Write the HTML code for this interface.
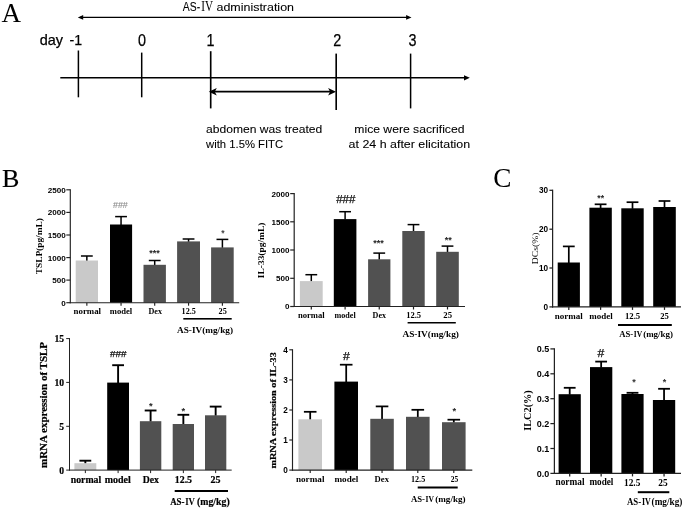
<!DOCTYPE html>
<html><head><meta charset="utf-8"><title>Figure</title>
<style>
html,body{margin:0;padding:0;background:#fff;}
body{width:685px;height:510px;overflow:hidden;font-family:"Liberation Sans",sans-serif;}
svg{display:block;will-change:transform;filter:grayscale(1);}
</style></head><body>
<svg width="685" height="510" viewBox="0 0 685 510">
<rect x="0" y="0" width="685" height="510" fill="#fff"/>
<text x="1.6" y="21.6" font-family="Liberation Serif" font-size="27" font-weight="normal" text-anchor="start" fill="#000">A</text>
<text x="1.9" y="186.9" font-family="Liberation Serif" font-size="26" font-weight="normal" text-anchor="start" fill="#000" stroke="#000" stroke-width="0.15">B</text>
<text x="493.2" y="187.4" font-family="Liberation Serif" font-size="27.2" font-weight="normal" text-anchor="start" fill="#000">C</text>
<text x="182.8" y="11.3" font-family="Liberation Sans" font-size="12.2" font-weight="normal" text-anchor="start" fill="#000" textLength="17.3" lengthAdjust="spacingAndGlyphs" stroke="#000" stroke-width="0.08">AS-</text>
<text x="201.2" y="11.2" font-family="Liberation Serif" font-size="14" font-weight="normal" text-anchor="start" fill="#000" textLength="11.8" lengthAdjust="spacingAndGlyphs">IV</text>
<text x="216.5" y="11.2" font-family="Liberation Sans" font-size="11.6" font-weight="normal" text-anchor="start" fill="#000" textLength="77.5" lengthAdjust="spacingAndGlyphs" stroke="#000" stroke-width="0.08">administration</text>
<line x1="80" y1="17.4" x2="409" y2="17.4" stroke="#000" stroke-width="1.4"/>
<polygon points="77.8,17.4 83.2,15 83.2,19.8" fill="#000"/>
<polygon points="411.5,17.4 406.1,15 406.1,19.8" fill="#000"/>
<text x="39.7" y="45.2" font-family="Liberation Sans" font-size="14.5" font-weight="normal" text-anchor="start" fill="#000" textLength="23.3" lengthAdjust="spacingAndGlyphs" stroke="#000" stroke-width="0.25">day</text>
<text x="69.5" y="45.2" font-family="Liberation Sans" font-size="14.5" font-weight="normal" text-anchor="start" fill="#000" textLength="12.6" lengthAdjust="spacingAndGlyphs" stroke="#000" stroke-width="0.25">-1</text>
<text x="141.9" y="45.7" font-family="Liberation Sans" font-size="16.4" font-weight="normal" text-anchor="middle" fill="#000" textLength="8" lengthAdjust="spacingAndGlyphs" stroke="#000" stroke-width="0.25">0</text>
<text x="210.6" y="45.7" font-family="Liberation Sans" font-size="16.4" font-weight="normal" text-anchor="middle" fill="#000" textLength="8" lengthAdjust="spacingAndGlyphs" stroke="#000" stroke-width="0.25">1</text>
<text x="337.3" y="45.7" font-family="Liberation Sans" font-size="16.4" font-weight="normal" text-anchor="middle" fill="#000" textLength="8" lengthAdjust="spacingAndGlyphs" stroke="#000" stroke-width="0.25">2</text>
<text x="412.5" y="45.7" font-family="Liberation Sans" font-size="16.4" font-weight="normal" text-anchor="middle" fill="#000" textLength="8" lengthAdjust="spacingAndGlyphs" stroke="#000" stroke-width="0.25">3</text>
<line x1="60.3" y1="77.8" x2="466" y2="77.8" stroke="#000" stroke-width="1.5"/>
<polygon points="469.8,77.8 464,75.2 464,80.4" fill="#000"/>
<line x1="78.4" y1="50.5" x2="78.4" y2="97.3" stroke="#000" stroke-width="1.5"/>
<line x1="141.7" y1="52.6" x2="141.7" y2="97.3" stroke="#000" stroke-width="1.5"/>
<line x1="210.7" y1="51.2" x2="210.7" y2="108.4" stroke="#000" stroke-width="1.65"/>
<line x1="336.2" y1="53.6" x2="336.2" y2="110" stroke="#000" stroke-width="1.65"/>
<line x1="410.6" y1="53.6" x2="410.6" y2="108.4" stroke="#000" stroke-width="1.5"/>
<line x1="213.5" y1="91.7" x2="331.5" y2="91.7" stroke="#000" stroke-width="1.8"/>
<polygon points="208.8,91.7 216.8,88 214.8,91.7 216.8,95.4" fill="#000"/>
<polygon points="336,91.7 328.1,88 330.1,91.7 328.1,95.4" fill="#000"/>
<text x="206.1" y="132.8" font-family="Liberation Sans" font-size="11.4" font-weight="normal" text-anchor="start" fill="#000" textLength="116.2" lengthAdjust="spacingAndGlyphs" stroke="#000" stroke-width="0.08">abdomen was treated</text>
<text x="206.1" y="147.9" font-family="Liberation Sans" font-size="11.4" font-weight="normal" text-anchor="start" fill="#000" textLength="77" lengthAdjust="spacingAndGlyphs" stroke="#000" stroke-width="0.08">with 1.5% FITC</text>
<text x="354.3" y="132.8" font-family="Liberation Sans" font-size="11.4" font-weight="normal" text-anchor="start" fill="#000" textLength="110.2" lengthAdjust="spacingAndGlyphs" stroke="#000" stroke-width="0.08">mice were sacrificed</text>
<text x="348.6" y="147.9" font-family="Liberation Sans" font-size="11.4" font-weight="normal" text-anchor="start" fill="#000" textLength="121.6" lengthAdjust="spacingAndGlyphs" stroke="#000" stroke-width="0.08">at 24 h after elicitation</text>
<line x1="86.85" y1="256" x2="86.85" y2="261.0" stroke="#000" stroke-width="1.5"/>
<line x1="80.94999999999999" y1="256" x2="92.75" y2="256" stroke="#000" stroke-width="1.5"/>
<rect x="75.7" y="260.5" width="22.299999999999997" height="42.19999999999999" fill="#c9c9c9"/>
<line x1="86.85" y1="302.7" x2="86.85" y2="305.7" stroke="#222" stroke-width="1.15"/>
<line x1="121.05" y1="216.6" x2="121.05" y2="225.0" stroke="#000" stroke-width="1.5"/>
<line x1="115.14999999999999" y1="216.6" x2="126.95" y2="216.6" stroke="#000" stroke-width="1.5"/>
<rect x="110" y="224.5" width="22.099999999999994" height="78.19999999999999" fill="#000"/>
<line x1="121.05" y1="302.7" x2="121.05" y2="305.7" stroke="#222" stroke-width="1.15"/>
<line x1="154.7" y1="260.5" x2="154.7" y2="265.3" stroke="#000" stroke-width="1.5"/>
<line x1="148.79999999999998" y1="260.5" x2="160.6" y2="260.5" stroke="#000" stroke-width="1.5"/>
<rect x="143.5" y="264.8" width="22.400000000000006" height="37.89999999999998" fill="#515151"/>
<line x1="154.7" y1="302.7" x2="154.7" y2="305.7" stroke="#222" stroke-width="1.15"/>
<line x1="188.55" y1="239" x2="188.55" y2="241.9" stroke="#000" stroke-width="1.5"/>
<line x1="182.65" y1="239" x2="194.45000000000002" y2="239" stroke="#000" stroke-width="1.5"/>
<rect x="177.1" y="241.4" width="22.900000000000006" height="61.29999999999998" fill="#515151"/>
<line x1="188.55" y1="302.7" x2="188.55" y2="305.7" stroke="#222" stroke-width="1.15"/>
<line x1="222.39999999999998" y1="239.4" x2="222.39999999999998" y2="247.9" stroke="#000" stroke-width="1.5"/>
<line x1="216.49999999999997" y1="239.4" x2="228.29999999999998" y2="239.4" stroke="#000" stroke-width="1.5"/>
<rect x="211.1" y="247.4" width="22.599999999999994" height="55.29999999999998" fill="#515151"/>
<line x1="222.39999999999998" y1="302.7" x2="222.39999999999998" y2="305.7" stroke="#222" stroke-width="1.15"/>
<line x1="70.3" y1="189.22500000000002" x2="70.3" y2="303.275" stroke="#222" stroke-width="1.15"/>
<line x1="69.725" y1="302.7" x2="239.2" y2="302.7" stroke="#222" stroke-width="1.15"/>
<line x1="66.3" y1="189.8" x2="70.3" y2="189.8" stroke="#222" stroke-width="1.15"/>
<text x="65.7" y="192.72" font-family="Liberation Sans" font-size="8.1" font-weight="bold" text-anchor="end" fill="#000">2500</text>
<line x1="66.3" y1="212.4" x2="70.3" y2="212.4" stroke="#222" stroke-width="1.15"/>
<text x="65.7" y="215.32" font-family="Liberation Sans" font-size="8.1" font-weight="bold" text-anchor="end" fill="#000">2000</text>
<line x1="66.3" y1="235" x2="70.3" y2="235" stroke="#222" stroke-width="1.15"/>
<text x="65.7" y="237.92" font-family="Liberation Sans" font-size="8.1" font-weight="bold" text-anchor="end" fill="#000">1500</text>
<line x1="66.3" y1="257.6" x2="70.3" y2="257.6" stroke="#222" stroke-width="1.15"/>
<text x="65.7" y="260.52" font-family="Liberation Sans" font-size="8.1" font-weight="bold" text-anchor="end" fill="#000">1000</text>
<line x1="66.3" y1="280.1" x2="70.3" y2="280.1" stroke="#222" stroke-width="1.15"/>
<text x="65.7" y="283.02" font-family="Liberation Sans" font-size="8.1" font-weight="bold" text-anchor="end" fill="#000">500</text>
<line x1="66.3" y1="302.7" x2="70.3" y2="302.7" stroke="#222" stroke-width="1.15"/>
<text x="65.7" y="305.62" font-family="Liberation Sans" font-size="8.1" font-weight="bold" text-anchor="end" fill="#000">0</text>
<text x="41.9" y="246.2" font-family="Liberation Serif" font-size="8.2" font-weight="bold" text-anchor="middle" fill="#000" textLength="56" lengthAdjust="spacingAndGlyphs" transform="rotate(-90 41.9 246.2)">TSLP(pg/mL)</text>
<text x="87.3" y="314.2" font-family="Liberation Serif" font-size="8" font-weight="bold" text-anchor="middle" fill="#000" textLength="27.5" lengthAdjust="spacingAndGlyphs">normal</text>
<text x="121" y="314.2" font-family="Liberation Serif" font-size="8" font-weight="bold" text-anchor="middle" fill="#000" textLength="22.4" lengthAdjust="spacingAndGlyphs">model</text>
<text x="155.2" y="314.2" font-family="Liberation Serif" font-size="8" font-weight="bold" text-anchor="middle" fill="#000" textLength="13.5" lengthAdjust="spacingAndGlyphs">Dex</text>
<text x="188.7" y="314.2" font-family="Liberation Serif" font-size="8" font-weight="bold" text-anchor="middle" fill="#000" textLength="14.2" lengthAdjust="spacingAndGlyphs">12.5</text>
<text x="222.7" y="314.2" font-family="Liberation Serif" font-size="8" font-weight="bold" text-anchor="middle" fill="#000" textLength="8.2" lengthAdjust="spacingAndGlyphs">25</text>
<rect x="183.3" y="318" width="48.4" height="1.6" fill="#000"/>
<text x="205" y="333" font-family="Liberation Serif" font-size="9" font-weight="bold" text-anchor="middle" fill="#000" textLength="56" lengthAdjust="spacingAndGlyphs">AS-IV(mg/kg)</text>
<line x1="311.29999999999995" y1="274.7" x2="311.29999999999995" y2="281.6" stroke="#000" stroke-width="1.5"/>
<line x1="305.4" y1="274.7" x2="317.19999999999993" y2="274.7" stroke="#000" stroke-width="1.5"/>
<rect x="299.9" y="281.1" width="22.80000000000001" height="25.399999999999977" fill="#c9c9c9"/>
<line x1="311.29999999999995" y1="306.5" x2="311.29999999999995" y2="309.5" stroke="#222" stroke-width="1.2"/>
<line x1="345.1" y1="211.7" x2="345.1" y2="219.6" stroke="#000" stroke-width="1.5"/>
<line x1="339.20000000000005" y1="211.7" x2="351.0" y2="211.7" stroke="#000" stroke-width="1.5"/>
<rect x="333.8" y="219.1" width="22.599999999999966" height="87.4" fill="#000"/>
<line x1="345.1" y1="306.5" x2="345.1" y2="309.5" stroke="#222" stroke-width="1.2"/>
<line x1="379.25" y1="253.1" x2="379.25" y2="259.8" stroke="#000" stroke-width="1.5"/>
<line x1="373.35" y1="253.1" x2="385.15" y2="253.1" stroke="#000" stroke-width="1.5"/>
<rect x="368.1" y="259.3" width="22.299999999999955" height="47.19999999999999" fill="#515151"/>
<line x1="379.25" y1="306.5" x2="379.25" y2="309.5" stroke="#222" stroke-width="1.2"/>
<line x1="413.5" y1="224.6" x2="413.5" y2="231.5" stroke="#000" stroke-width="1.5"/>
<line x1="407.6" y1="224.6" x2="419.4" y2="224.6" stroke="#000" stroke-width="1.5"/>
<rect x="402.3" y="231" width="22.399999999999977" height="75.5" fill="#515151"/>
<line x1="413.5" y1="306.5" x2="413.5" y2="309.5" stroke="#222" stroke-width="1.2"/>
<line x1="447.5" y1="246.1" x2="447.5" y2="252.3" stroke="#000" stroke-width="1.5"/>
<line x1="441.6" y1="246.1" x2="453.4" y2="246.1" stroke="#000" stroke-width="1.5"/>
<rect x="436.2" y="251.8" width="22.600000000000023" height="54.69999999999999" fill="#515151"/>
<line x1="447.5" y1="306.5" x2="447.5" y2="309.5" stroke="#222" stroke-width="1.2"/>
<line x1="294.2" y1="193.0" x2="294.2" y2="307.1" stroke="#222" stroke-width="1.2"/>
<line x1="293.59999999999997" y1="306.5" x2="465" y2="306.5" stroke="#222" stroke-width="1.2"/>
<line x1="290.2" y1="193.6" x2="294.2" y2="193.6" stroke="#222" stroke-width="1.2"/>
<text x="289.59999999999997" y="196.52" font-family="Liberation Sans" font-size="8.1" font-weight="bold" text-anchor="end" fill="#000">2000</text>
<line x1="290.2" y1="221.8" x2="294.2" y2="221.8" stroke="#222" stroke-width="1.2"/>
<text x="289.59999999999997" y="224.72" font-family="Liberation Sans" font-size="8.1" font-weight="bold" text-anchor="end" fill="#000">1500</text>
<line x1="290.2" y1="250" x2="294.2" y2="250" stroke="#222" stroke-width="1.2"/>
<text x="289.59999999999997" y="252.92" font-family="Liberation Sans" font-size="8.1" font-weight="bold" text-anchor="end" fill="#000">1000</text>
<line x1="290.2" y1="278.3" x2="294.2" y2="278.3" stroke="#222" stroke-width="1.2"/>
<text x="289.59999999999997" y="281.22" font-family="Liberation Sans" font-size="8.1" font-weight="bold" text-anchor="end" fill="#000">500</text>
<line x1="290.2" y1="306.5" x2="294.2" y2="306.5" stroke="#222" stroke-width="1.2"/>
<text x="289.59999999999997" y="309.42" font-family="Liberation Sans" font-size="8.1" font-weight="bold" text-anchor="end" fill="#000">0</text>
<text x="264.5" y="250.4" font-family="Liberation Serif" font-size="8.4" font-weight="bold" text-anchor="middle" fill="#000" textLength="55.5" lengthAdjust="spacingAndGlyphs" transform="rotate(-90 264.5 250.4)">IL-33(pg/mL)</text>
<text x="311.3" y="318.3" font-family="Liberation Serif" font-size="8" font-weight="bold" text-anchor="middle" fill="#000" textLength="26.8" lengthAdjust="spacingAndGlyphs">normal</text>
<text x="345.1" y="318.3" font-family="Liberation Serif" font-size="8" font-weight="bold" text-anchor="middle" fill="#000" textLength="21.2" lengthAdjust="spacingAndGlyphs">model</text>
<text x="379.3" y="318.3" font-family="Liberation Serif" font-size="8" font-weight="bold" text-anchor="middle" fill="#000" textLength="13.4" lengthAdjust="spacingAndGlyphs">Dex</text>
<text x="413.6" y="318.3" font-family="Liberation Serif" font-size="8" font-weight="bold" text-anchor="middle" fill="#000" textLength="14.9" lengthAdjust="spacingAndGlyphs">12.5</text>
<text x="447.7" y="318.3" font-family="Liberation Serif" font-size="8" font-weight="bold" text-anchor="middle" fill="#000" textLength="8.7" lengthAdjust="spacingAndGlyphs">25</text>
<rect x="407.6" y="322" width="48.2" height="1.5" fill="#000"/>
<text x="430.7" y="336.7" font-family="Liberation Serif" font-size="9" font-weight="bold" text-anchor="middle" fill="#000" textLength="56.5" lengthAdjust="spacingAndGlyphs">AS-IV(mg/kg)</text>
<line x1="85.35" y1="460.7" x2="85.35" y2="463.7" stroke="#000" stroke-width="1.9"/>
<line x1="79.44999999999999" y1="460.7" x2="91.25" y2="460.7" stroke="#000" stroke-width="1.9"/>
<rect x="74.4" y="463.2" width="21.89999999999999" height="6.900000000000034" fill="#c9c9c9"/>
<line x1="85.35" y1="470.1" x2="85.35" y2="473.1" stroke="#222" stroke-width="1.0"/>
<line x1="118.1" y1="365.2" x2="118.1" y2="383.1" stroke="#000" stroke-width="1.9"/>
<line x1="112.19999999999999" y1="365.2" x2="124.0" y2="365.2" stroke="#000" stroke-width="1.9"/>
<rect x="107.2" y="382.6" width="21.799999999999997" height="87.5" fill="#000"/>
<line x1="118.1" y1="470.1" x2="118.1" y2="473.1" stroke="#222" stroke-width="1.0"/>
<line x1="150.60000000000002" y1="410.5" x2="150.60000000000002" y2="421.7" stroke="#000" stroke-width="1.9"/>
<line x1="144.70000000000002" y1="410.5" x2="156.50000000000003" y2="410.5" stroke="#000" stroke-width="1.9"/>
<rect x="139.9" y="421.2" width="21.400000000000006" height="48.900000000000034" fill="#515151"/>
<line x1="150.60000000000002" y1="470.1" x2="150.60000000000002" y2="473.1" stroke="#222" stroke-width="1.0"/>
<line x1="183.35" y1="414.8" x2="183.35" y2="424.5" stroke="#000" stroke-width="1.9"/>
<line x1="177.45" y1="414.8" x2="189.25" y2="414.8" stroke="#000" stroke-width="1.9"/>
<rect x="172.7" y="424" width="21.30000000000001" height="46.10000000000002" fill="#515151"/>
<line x1="183.35" y1="470.1" x2="183.35" y2="473.1" stroke="#222" stroke-width="1.0"/>
<line x1="215.65" y1="406.6" x2="215.65" y2="415.8" stroke="#000" stroke-width="1.9"/>
<line x1="209.75" y1="406.6" x2="221.55" y2="406.6" stroke="#000" stroke-width="1.9"/>
<rect x="205" y="415.3" width="21.30000000000001" height="54.80000000000001" fill="#515151"/>
<line x1="215.65" y1="470.1" x2="215.65" y2="473.1" stroke="#222" stroke-width="1.0"/>
<line x1="69.5" y1="338.1" x2="69.5" y2="470.6" stroke="#222" stroke-width="1.0"/>
<line x1="69.0" y1="470.1" x2="231.7" y2="470.1" stroke="#222" stroke-width="1.0"/>
<line x1="66.2" y1="338.6" x2="69.5" y2="338.6" stroke="#222" stroke-width="1.0"/>
<text x="64.0" y="342.06" font-family="Liberation Serif" font-size="9.6" font-weight="bold" text-anchor="end" fill="#000" stroke="#000" stroke-width="0.2">15</text>
<line x1="66.2" y1="382.4" x2="69.5" y2="382.4" stroke="#222" stroke-width="1.0"/>
<text x="64.0" y="385.86" font-family="Liberation Serif" font-size="9.6" font-weight="bold" text-anchor="end" fill="#000" stroke="#000" stroke-width="0.2">10</text>
<line x1="66.2" y1="426.3" x2="69.5" y2="426.3" stroke="#222" stroke-width="1.0"/>
<text x="64.0" y="429.76" font-family="Liberation Serif" font-size="9.6" font-weight="bold" text-anchor="end" fill="#000" stroke="#000" stroke-width="0.2">5</text>
<line x1="66.2" y1="470.1" x2="69.5" y2="470.1" stroke="#222" stroke-width="1.0"/>
<text x="64.0" y="473.56" font-family="Liberation Serif" font-size="9.6" font-weight="bold" text-anchor="end" fill="#000" stroke="#000" stroke-width="0.2">0</text>
<text x="46.6" y="405" font-family="Liberation Serif" font-size="10" font-weight="bold" text-anchor="middle" fill="#000" textLength="126" lengthAdjust="spacingAndGlyphs" transform="rotate(-90 46.6 405)" stroke="#000" stroke-width="0.2">mRNA expression of TSLP</text>
<text x="86" y="482.5" font-family="Liberation Serif" font-size="10" font-weight="bold" text-anchor="middle" fill="#000" textLength="30.5" lengthAdjust="spacingAndGlyphs" stroke="#000" stroke-width="0.2">normal</text>
<text x="117.8" y="482.5" font-family="Liberation Serif" font-size="10" font-weight="bold" text-anchor="middle" fill="#000" textLength="26" lengthAdjust="spacingAndGlyphs" stroke="#000" stroke-width="0.2">model</text>
<text x="150.8" y="482.5" font-family="Liberation Serif" font-size="10" font-weight="bold" text-anchor="middle" fill="#000" textLength="16.2" lengthAdjust="spacingAndGlyphs" stroke="#000" stroke-width="0.2">Dex</text>
<text x="183.4" y="482.5" font-family="Liberation Serif" font-size="10" font-weight="bold" text-anchor="middle" fill="#000" textLength="17.3" lengthAdjust="spacingAndGlyphs" stroke="#000" stroke-width="0.2">12.5</text>
<text x="215.6" y="482.5" font-family="Liberation Serif" font-size="10" font-weight="bold" text-anchor="middle" fill="#000" textLength="10" lengthAdjust="spacingAndGlyphs" stroke="#000" stroke-width="0.2">25</text>
<rect x="174.7" y="490" width="53.3" height="2" fill="#000"/>
<text x="170.2" y="505.3" font-family="Liberation Serif" font-size="10" font-weight="bold" text-anchor="start" fill="#000" textLength="14.3" lengthAdjust="spacingAndGlyphs" stroke="#000" stroke-width="0.2">AS-</text>
<text x="185.2" y="505.3" font-family="Liberation Serif" font-size="10.3" font-weight="bold" text-anchor="start" fill="#000" textLength="9.8" lengthAdjust="spacingAndGlyphs">IV</text>
<text x="197" y="505.3" font-family="Liberation Serif" font-size="10" font-weight="bold" text-anchor="start" fill="#000" textLength="32.7" lengthAdjust="spacingAndGlyphs" stroke="#000" stroke-width="0.2">(mg/kg)</text>
<line x1="310.2" y1="411.8" x2="310.2" y2="419.8" stroke="#000" stroke-width="1.75"/>
<line x1="303.9" y1="411.8" x2="316.5" y2="411.8" stroke="#000" stroke-width="1.75"/>
<rect x="298.4" y="419.3" width="23.600000000000023" height="50.80000000000001" fill="#c9c9c9"/>
<line x1="310.2" y1="470.1" x2="310.2" y2="473.1" stroke="#222" stroke-width="1.15"/>
<line x1="346.2" y1="364.7" x2="346.2" y2="382.1" stroke="#000" stroke-width="1.75"/>
<line x1="339.9" y1="364.7" x2="352.5" y2="364.7" stroke="#000" stroke-width="1.75"/>
<rect x="334.4" y="381.6" width="23.600000000000023" height="88.5" fill="#000"/>
<line x1="346.2" y1="470.1" x2="346.2" y2="473.1" stroke="#222" stroke-width="1.15"/>
<line x1="382.05" y1="406.4" x2="382.05" y2="419.3" stroke="#000" stroke-width="1.75"/>
<line x1="375.75" y1="406.4" x2="388.35" y2="406.4" stroke="#000" stroke-width="1.75"/>
<rect x="370.3" y="418.8" width="23.5" height="51.30000000000001" fill="#515151"/>
<line x1="382.05" y1="470.1" x2="382.05" y2="473.1" stroke="#222" stroke-width="1.15"/>
<line x1="417.8" y1="409.8" x2="417.8" y2="417.3" stroke="#000" stroke-width="1.75"/>
<line x1="411.5" y1="409.8" x2="424.1" y2="409.8" stroke="#000" stroke-width="1.75"/>
<rect x="406" y="416.8" width="23.600000000000023" height="53.30000000000001" fill="#515151"/>
<line x1="417.8" y1="470.1" x2="417.8" y2="473.1" stroke="#222" stroke-width="1.15"/>
<line x1="453.8" y1="419.7" x2="453.8" y2="422.7" stroke="#000" stroke-width="1.75"/>
<line x1="447.5" y1="419.7" x2="460.1" y2="419.7" stroke="#000" stroke-width="1.75"/>
<rect x="442" y="422.2" width="23.600000000000023" height="47.900000000000034" fill="#515151"/>
<line x1="453.8" y1="470.1" x2="453.8" y2="473.1" stroke="#222" stroke-width="1.15"/>
<line x1="292.5" y1="349.225" x2="292.5" y2="470.675" stroke="#222" stroke-width="1.15"/>
<line x1="291.925" y1="470.1" x2="472.3" y2="470.1" stroke="#222" stroke-width="1.15"/>
<line x1="289.3" y1="349.8" x2="292.5" y2="349.8" stroke="#222" stroke-width="1.15"/>
<text x="287.90000000000003" y="352.75" font-family="Liberation Sans" font-size="8.2" font-weight="bold" text-anchor="end" fill="#000">4</text>
<line x1="289.3" y1="379.9" x2="292.5" y2="379.9" stroke="#222" stroke-width="1.15"/>
<text x="287.90000000000003" y="382.85" font-family="Liberation Sans" font-size="8.2" font-weight="bold" text-anchor="end" fill="#000">3</text>
<line x1="289.3" y1="410" x2="292.5" y2="410" stroke="#222" stroke-width="1.15"/>
<text x="287.90000000000003" y="412.95" font-family="Liberation Sans" font-size="8.2" font-weight="bold" text-anchor="end" fill="#000">2</text>
<line x1="289.3" y1="440" x2="292.5" y2="440" stroke="#222" stroke-width="1.15"/>
<text x="287.90000000000003" y="442.95" font-family="Liberation Sans" font-size="8.2" font-weight="bold" text-anchor="end" fill="#000">1</text>
<line x1="289.3" y1="470.1" x2="292.5" y2="470.1" stroke="#222" stroke-width="1.15"/>
<text x="287.90000000000003" y="473.05" font-family="Liberation Sans" font-size="8.2" font-weight="bold" text-anchor="end" fill="#000">0</text>
<text x="276.4" y="410.4" font-family="Liberation Serif" font-size="8.6" font-weight="bold" text-anchor="middle" fill="#000" textLength="116.3" lengthAdjust="spacingAndGlyphs" transform="rotate(-90 276.4 410.4)" stroke="#000" stroke-width="0.2">mRNA expression of IL-33</text>
<text x="310.2" y="481.8" font-family="Liberation Serif" font-size="8.5" font-weight="bold" text-anchor="middle" fill="#000" textLength="28.5" lengthAdjust="spacingAndGlyphs">normal</text>
<text x="346.4" y="481.8" font-family="Liberation Serif" font-size="8.5" font-weight="bold" text-anchor="middle" fill="#000" textLength="24" lengthAdjust="spacingAndGlyphs">model</text>
<text x="381.8" y="481.8" font-family="Liberation Serif" font-size="8.5" font-weight="bold" text-anchor="middle" fill="#000" textLength="14.4" lengthAdjust="spacingAndGlyphs">Dex</text>
<text x="418.1" y="481.8" font-family="Liberation Serif" font-size="8.5" font-weight="bold" text-anchor="middle" fill="#000" textLength="14.2" lengthAdjust="spacingAndGlyphs">12.5</text>
<text x="454.4" y="481.8" font-family="Liberation Serif" font-size="8.5" font-weight="bold" text-anchor="middle" fill="#000" textLength="7.5" lengthAdjust="spacingAndGlyphs">25</text>
<rect x="417.7" y="486.5" width="40" height="2" fill="#000"/>
<text x="411" y="502.4" font-family="Liberation Serif" font-size="8.5" font-weight="bold" text-anchor="start" fill="#000" textLength="14" lengthAdjust="spacingAndGlyphs">AS-</text>
<text x="425.5" y="502.4" font-family="Liberation Serif" font-size="9" font-weight="bold" text-anchor="start" fill="#000" textLength="8.4" lengthAdjust="spacingAndGlyphs">IV</text>
<text x="435.2" y="502.4" font-family="Liberation Serif" font-size="8.5" font-weight="bold" text-anchor="start" fill="#000" textLength="30.4" lengthAdjust="spacingAndGlyphs">(mg/kg)</text>
<line x1="568.8" y1="246.4" x2="568.8" y2="263.0" stroke="#000" stroke-width="1.7"/>
<line x1="562.9" y1="246.4" x2="574.6999999999999" y2="246.4" stroke="#000" stroke-width="1.7"/>
<rect x="557.7" y="262.5" width="22.199999999999932" height="44.39999999999998" fill="#000"/>
<line x1="568.8" y1="306.9" x2="568.8" y2="309.9" stroke="#222" stroke-width="1.25"/>
<line x1="600.5999999999999" y1="204.3" x2="600.5999999999999" y2="208.2" stroke="#000" stroke-width="1.7"/>
<line x1="594.6999999999999" y1="204.3" x2="606.4999999999999" y2="204.3" stroke="#000" stroke-width="1.7"/>
<rect x="589.4" y="207.7" width="22.399999999999977" height="99.19999999999999" fill="#000"/>
<line x1="600.5999999999999" y1="306.9" x2="600.5999999999999" y2="309.9" stroke="#222" stroke-width="1.25"/>
<line x1="632.5" y1="202.2" x2="632.5" y2="208.8" stroke="#000" stroke-width="1.7"/>
<line x1="626.6" y1="202.2" x2="638.4" y2="202.2" stroke="#000" stroke-width="1.7"/>
<rect x="621.3" y="208.3" width="22.40000000000009" height="98.59999999999997" fill="#000"/>
<line x1="632.5" y1="306.9" x2="632.5" y2="309.9" stroke="#222" stroke-width="1.25"/>
<line x1="664.5" y1="201" x2="664.5" y2="207.5" stroke="#000" stroke-width="1.7"/>
<line x1="658.6" y1="201" x2="670.4" y2="201" stroke="#000" stroke-width="1.7"/>
<rect x="653.2" y="207" width="22.59999999999991" height="99.89999999999998" fill="#000"/>
<line x1="664.5" y1="306.9" x2="664.5" y2="309.9" stroke="#222" stroke-width="1.25"/>
<line x1="552.6" y1="189.675" x2="552.6" y2="307.525" stroke="#222" stroke-width="1.25"/>
<line x1="551.975" y1="306.9" x2="681" y2="306.9" stroke="#222" stroke-width="1.25"/>
<line x1="549.4" y1="190.3" x2="552.6" y2="190.3" stroke="#222" stroke-width="1.25"/>
<text x="548.0" y="193.25" font-family="Liberation Sans" font-size="8.2" font-weight="bold" text-anchor="end" fill="#000">30</text>
<line x1="549.4" y1="229.2" x2="552.6" y2="229.2" stroke="#222" stroke-width="1.25"/>
<text x="548.0" y="232.15" font-family="Liberation Sans" font-size="8.2" font-weight="bold" text-anchor="end" fill="#000">20</text>
<line x1="549.4" y1="268" x2="552.6" y2="268" stroke="#222" stroke-width="1.25"/>
<text x="548.0" y="270.95" font-family="Liberation Sans" font-size="8.2" font-weight="bold" text-anchor="end" fill="#000">10</text>
<line x1="549.4" y1="306.9" x2="552.6" y2="306.9" stroke="#222" stroke-width="1.25"/>
<text x="548.0" y="309.85" font-family="Liberation Sans" font-size="8.2" font-weight="bold" text-anchor="end" fill="#000">0</text>
<text x="537.7" y="248.3" font-family="Liberation Serif" font-size="9.2" font-weight="normal" text-anchor="middle" fill="#000" textLength="31.8" lengthAdjust="spacingAndGlyphs" transform="rotate(-90 537.7 248.3)">DCs(%)</text>
<text x="568.8" y="319.3" font-family="Liberation Serif" font-size="9" font-weight="bold" text-anchor="middle" fill="#000" textLength="28" lengthAdjust="spacingAndGlyphs">normal</text>
<text x="601" y="319.3" font-family="Liberation Serif" font-size="9" font-weight="bold" text-anchor="middle" fill="#000" textLength="23.4" lengthAdjust="spacingAndGlyphs">model</text>
<text x="632.6" y="319.3" font-family="Liberation Serif" font-size="8.5" font-weight="bold" text-anchor="middle" fill="#000" textLength="15.3" lengthAdjust="spacingAndGlyphs">12.5</text>
<text x="664.5" y="319.3" font-family="Liberation Serif" font-size="8.5" font-weight="bold" text-anchor="middle" fill="#000" textLength="8.6" lengthAdjust="spacingAndGlyphs">25</text>
<rect x="618" y="324" width="53.8" height="2" fill="#000"/>
<text x="619.2" y="336.7" font-family="Liberation Serif" font-size="8.5" font-weight="bold" text-anchor="start" fill="#000" textLength="14" lengthAdjust="spacingAndGlyphs">AS-</text>
<text x="633.8" y="336.7" font-family="Liberation Serif" font-size="9" font-weight="bold" text-anchor="start" fill="#000" textLength="8.4" lengthAdjust="spacingAndGlyphs">IV</text>
<text x="643.2" y="336.7" font-family="Liberation Serif" font-size="8.5" font-weight="bold" text-anchor="start" fill="#000" textLength="29.8" lengthAdjust="spacingAndGlyphs">(mg/kg)</text>
<line x1="569.7" y1="387.8" x2="569.7" y2="394.7" stroke="#000" stroke-width="1.8"/>
<line x1="563.8000000000001" y1="387.8" x2="575.6" y2="387.8" stroke="#000" stroke-width="1.8"/>
<rect x="558.6" y="394.2" width="22.199999999999932" height="79.19999999999999" fill="#000"/>
<line x1="569.7" y1="473.4" x2="569.7" y2="476.4" stroke="#222" stroke-width="1.25"/>
<line x1="601.15" y1="361.6" x2="601.15" y2="367.6" stroke="#000" stroke-width="1.8"/>
<line x1="595.25" y1="361.6" x2="607.05" y2="361.6" stroke="#000" stroke-width="1.8"/>
<rect x="590" y="367.1" width="22.299999999999955" height="106.29999999999995" fill="#000"/>
<line x1="601.15" y1="473.4" x2="601.15" y2="476.4" stroke="#222" stroke-width="1.25"/>
<line x1="632.5" y1="392.8" x2="632.5" y2="394.5" stroke="#000" stroke-width="1.8"/>
<line x1="626.6" y1="392.8" x2="638.4" y2="392.8" stroke="#000" stroke-width="1.8"/>
<rect x="621.4" y="394" width="22.200000000000045" height="79.39999999999998" fill="#000"/>
<line x1="632.5" y1="473.4" x2="632.5" y2="476.4" stroke="#222" stroke-width="1.25"/>
<line x1="664.05" y1="388.8" x2="664.05" y2="400.5" stroke="#000" stroke-width="1.8"/>
<line x1="658.15" y1="388.8" x2="669.9499999999999" y2="388.8" stroke="#000" stroke-width="1.8"/>
<rect x="652.9" y="400" width="22.300000000000068" height="73.39999999999998" fill="#000"/>
<line x1="664.05" y1="473.4" x2="664.05" y2="476.4" stroke="#222" stroke-width="1.25"/>
<line x1="554.4" y1="348.275" x2="554.4" y2="474.025" stroke="#222" stroke-width="1.25"/>
<line x1="553.775" y1="473.4" x2="681" y2="473.4" stroke="#222" stroke-width="1.25"/>
<line x1="550.4" y1="348.9" x2="554.4" y2="348.9" stroke="#222" stroke-width="1.25"/>
<text x="549.1999999999999" y="352.14" font-family="Liberation Sans" font-size="9" font-weight="bold" text-anchor="end" fill="#000">0.5</text>
<line x1="550.4" y1="373.8" x2="554.4" y2="373.8" stroke="#222" stroke-width="1.25"/>
<text x="549.1999999999999" y="377.04" font-family="Liberation Sans" font-size="9" font-weight="bold" text-anchor="end" fill="#000">0.4</text>
<line x1="550.4" y1="398.7" x2="554.4" y2="398.7" stroke="#222" stroke-width="1.25"/>
<text x="549.1999999999999" y="401.94" font-family="Liberation Sans" font-size="9" font-weight="bold" text-anchor="end" fill="#000">0.3</text>
<line x1="550.4" y1="423.6" x2="554.4" y2="423.6" stroke="#222" stroke-width="1.25"/>
<text x="549.1999999999999" y="426.84" font-family="Liberation Sans" font-size="9" font-weight="bold" text-anchor="end" fill="#000">0.2</text>
<line x1="550.4" y1="448.5" x2="554.4" y2="448.5" stroke="#222" stroke-width="1.25"/>
<text x="549.1999999999999" y="451.74" font-family="Liberation Sans" font-size="9" font-weight="bold" text-anchor="end" fill="#000">0.1</text>
<line x1="550.4" y1="473.4" x2="554.4" y2="473.4" stroke="#222" stroke-width="1.25"/>
<text x="549.1999999999999" y="476.64" font-family="Liberation Sans" font-size="9" font-weight="bold" text-anchor="end" fill="#000">0.0</text>
<text x="530.6" y="410.5" font-family="Liberation Serif" font-size="10" font-weight="bold" text-anchor="middle" fill="#000" textLength="40.5" lengthAdjust="spacingAndGlyphs" transform="rotate(-90 530.6 410.5)">ILC2(%)</text>
<text x="570" y="485.3" font-family="Liberation Serif" font-size="9.3" font-weight="bold" text-anchor="middle" fill="#000" textLength="29" lengthAdjust="spacingAndGlyphs">normal</text>
<text x="601.4" y="485.3" font-family="Liberation Serif" font-size="9.3" font-weight="bold" text-anchor="middle" fill="#000" textLength="24" lengthAdjust="spacingAndGlyphs">model</text>
<text x="632.2" y="485.5" font-family="Liberation Serif" font-size="9.5" font-weight="bold" text-anchor="middle" fill="#000" textLength="16.4" lengthAdjust="spacingAndGlyphs">12.5</text>
<text x="663" y="485.5" font-family="Liberation Serif" font-size="9.5" font-weight="bold" text-anchor="middle" fill="#000" textLength="9.4" lengthAdjust="spacingAndGlyphs">25</text>
<rect x="637.8" y="491.2" width="31.5" height="2" fill="#000"/>
<text x="627" y="504.9" font-family="Liberation Serif" font-size="9.3" font-weight="bold" text-anchor="start" fill="#000" textLength="14.2" lengthAdjust="spacingAndGlyphs">AS-</text>
<text x="641.9" y="504.9" font-family="Liberation Serif" font-size="9.6" font-weight="bold" text-anchor="start" fill="#000" textLength="8.8" lengthAdjust="spacingAndGlyphs">IV</text>
<text x="651.6" y="504.9" font-family="Liberation Serif" font-size="9.3" font-weight="bold" text-anchor="start" fill="#000" textLength="30.8" lengthAdjust="spacingAndGlyphs">(mg/kg)</text>
<text x="120.4" y="208.44" font-family="Liberation Sans" font-size="8.5" font-weight="normal" text-anchor="middle" fill="#8c8c8c" textLength="14.9" lengthAdjust="spacingAndGlyphs" stroke="#8c8c8c" stroke-width="0.1">###</text>
<text x="154.5" y="256.48" font-family="Liberation Sans" font-size="9.4" font-weight="bold" text-anchor="middle" fill="#262626" textLength="10.57" lengthAdjust="spacingAndGlyphs">***</text>
<text x="223" y="235.59" font-family="Liberation Sans" font-size="8.5" font-weight="bold" text-anchor="middle" fill="#444">*</text>
<text x="345.8" y="202.82" font-family="Liberation Sans" font-size="11.5" font-weight="normal" text-anchor="middle" fill="#111" textLength="19.2" lengthAdjust="spacingAndGlyphs" stroke="#111" stroke-width="0.25">###</text>
<text x="378.6" y="246.28" font-family="Liberation Sans" font-size="9.4" font-weight="bold" text-anchor="middle" fill="#262626" textLength="10.57" lengthAdjust="spacingAndGlyphs">***</text>
<text x="448.2" y="243.38" font-family="Liberation Sans" font-size="9.4" font-weight="bold" text-anchor="middle" fill="#262626" textLength="7.05" lengthAdjust="spacingAndGlyphs">**</text>
<text x="118.3" y="357.01" font-family="Liberation Sans" font-size="9.8" font-weight="normal" text-anchor="middle" fill="#111" textLength="16.6" lengthAdjust="spacingAndGlyphs" stroke="#111" stroke-width="0.25">###</text>
<text x="150.9" y="409.48" font-family="Liberation Sans" font-size="9.4" font-weight="bold" text-anchor="middle" fill="#262626">*</text>
<text x="183.3" y="413.68" font-family="Liberation Sans" font-size="9.4" font-weight="bold" text-anchor="middle" fill="#262626">*</text>
<text x="346.4" y="360.19" font-family="Liberation Sans" font-size="10.3" font-weight="normal" text-anchor="middle" fill="#111" textLength="6.8" lengthAdjust="spacingAndGlyphs" stroke="#111" stroke-width="0.25">#</text>
<text x="454.4" y="414.38" font-family="Liberation Sans" font-size="9.4" font-weight="bold" text-anchor="middle" fill="#262626">*</text>
<text x="600.7" y="201.16" font-family="Liberation Sans" font-size="9" font-weight="bold" text-anchor="middle" fill="#262626" textLength="6.75" lengthAdjust="spacingAndGlyphs">**</text>
<text x="601" y="356.59" font-family="Liberation Sans" font-size="10.3" font-weight="normal" text-anchor="middle" fill="#111" textLength="6.8" lengthAdjust="spacingAndGlyphs" stroke="#111" stroke-width="0.25">#</text>
<text x="634.1" y="384.56" font-family="Liberation Sans" font-size="9" font-weight="bold" text-anchor="middle" fill="#333">*</text>
<text x="664.6" y="384.56" font-family="Liberation Sans" font-size="9" font-weight="bold" text-anchor="middle" fill="#333">*</text>
</svg>
</body></html>
